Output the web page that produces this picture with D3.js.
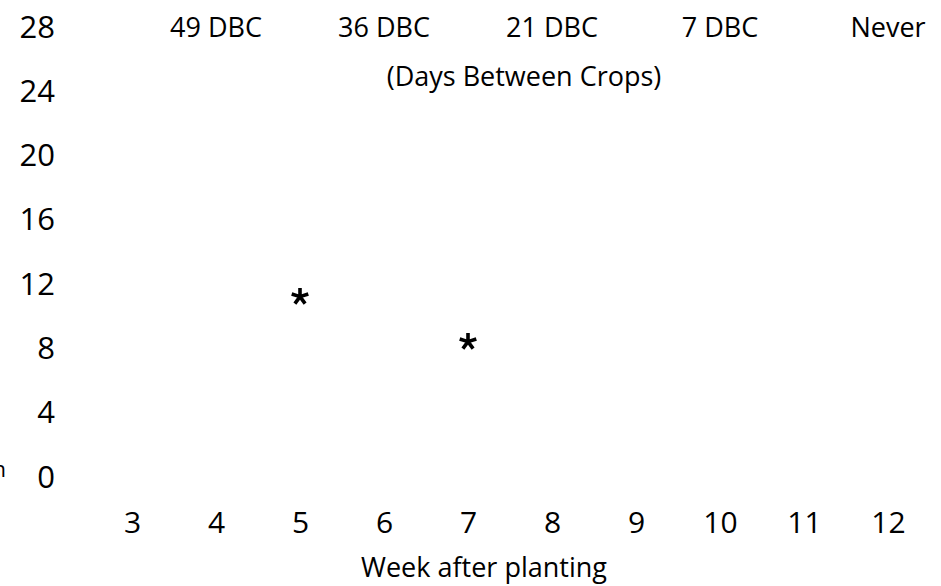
<!DOCTYPE html>
<html>
<head>
<meta charset="utf-8">
<script src="https://cdn.jsdelivr.net/npm/d3@7"></script>
<style>
  html, body { margin: 0; padding: 0; background: #fff; }
  svg { display: block; }
  text { font-family: "Open Sans", "Noto Sans", sans-serif; fill: #000; }
</style>
</head>
<body>
<svg id="chart" width="941" height="586"></svg>
<script>
// Week ticks along the bottom axis
const weeks = [3, 4, 5, 6, 7, 8, 9, 10, 11, 12];
// Vertical axis ticks
const yTicks = [0, 4, 8, 12, 16, 20, 24, 28];
// Harvest-interval labels across the top, one per even week
const dbcWeeks = [4, 6, 8, 10, 12];
const dbcLabels = ["49 DBC", "36 DBC", "21 DBC", "7 DBC", "Never"];
// Significance markers (week, value)
const markWeeks = [5, 7];
const markValues = [11.1, 8.3];

const svg = d3.select("#chart");

const x = d3.scaleLinear().domain([3, 12]).range([132, 888]);
const y = d3.scaleLinear().domain([0, 28]).range([475, 25]);

// Y axis: tick labels only, right-aligned
const yAxis = d3.axisLeft(y).tickValues(yTicks).tickSize(0).tickPadding(0);
const gy = svg.append("g").attr("transform", "translate(55,0)").call(yAxis);
gy.select(".domain").remove();
gy.selectAll("text")
  .attr("font-family", null)
  .attr("dy", null)
  .attr("y", 12)
  .style("font-size", "31px")
  .attr("fill", "#000");

// X axis: tick labels only
const xAxis = d3.axisBottom(x).tickValues(weeks).tickSize(0).tickPadding(0).tickFormat(d3.format("d"));
const gx = svg.append("g").call(xAxis);
gx.select(".domain").remove();
gx.selectAll("text")
  .attr("font-family", null)
  .attr("dy", null)
  .attr("y", 533)
  .style("font-size", "30px")
  .attr("fill", "#000");

// X axis title
svg.append("text")
  .attr("x", 484)
  .attr("y", 577)
  .attr("text-anchor", "middle")
  .style("font-size", "27px")
  .text("Week after planting");

// Top labels: harvest intervals
svg.append("g").selectAll("text")
  .data(dbcWeeks)
  .join("text")
  .attr("x", d => x(d))
  .attr("y", 37)
  .attr("text-anchor", "middle")
  .style("font-size", "27px")
  .text((d, i) => dbcLabels[i]);

svg.append("text")
  .attr("x", 524)
  .attr("y", 86)
  .attr("text-anchor", "middle")
  .style("font-size", "27px")
  .text("(Days Between Crops)");

// Partially visible side label at the left edge
svg.append("text")
  .attr("x", 6)
  .attr("y", 477)
  .attr("text-anchor", "end")
  .style("font-size", "22px")
  .text("n");

// Five-armed asterisk symbol
const asterisk = {
  draw(context, size) {
    const r = Math.sqrt(size);
    for (let k = 0; k < 5; k++) {
      const a = -Math.PI / 2 + k * 2 * Math.PI / 5;
      context.moveTo(0, 0);
      context.lineTo(r * Math.cos(a), r * Math.sin(a));
    }
  }
};

svg.append("g").selectAll("path")
  .data(markWeeks)
  .join("path")
  .attr("transform", (d, i) => `translate(${x(d)},${y(markValues[i])})`)
  .attr("d", d3.symbol().type(asterisk).size(76))
  .attr("fill", "none")
  .attr("stroke", "#000")
  .attr("stroke-width", 3.6)
  .attr("stroke-linecap", "butt");
</script>
</body>
</html>
